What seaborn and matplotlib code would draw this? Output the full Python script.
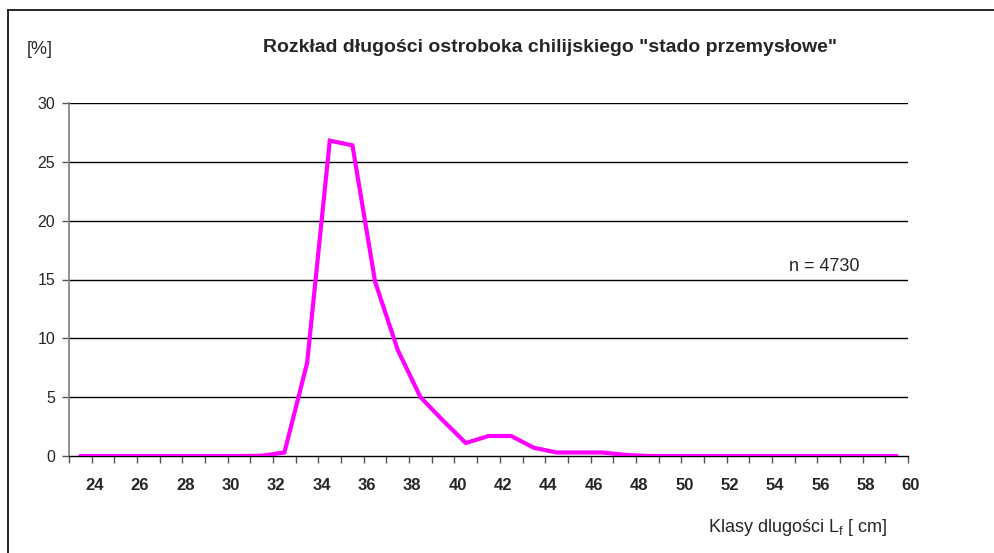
import matplotlib
matplotlib.use("Agg")
import matplotlib.pyplot as plt
import matplotlib.transforms as mtransforms
import seaborn as sns
import numpy as np
import pandas as pd
from matplotlib.lines import Line2D

sns.set_theme(style="white")
plt.rcParams['font.family'] = ['Liberation Sans', 'DejaVu Sans']

# length classes (class centres, cm)
klasy = [23.5, 24.5, 25.5, 26.5, 27.5, 28.5, 29.5, 30.5, 31.5, 32.5, 33.5, 34.5,
         35.5, 36.5, 37.5, 38.5, 39.5, 40.5, 41.5, 42.5, 43.5, 44.5, 45.5, 46.5,
         47.5, 48.5, 49.5, 50.5, 51.5, 52.5, 53.5, 54.5, 55.5, 56.5, 57.5, 58.5, 59.5]
procent = [0.0, 0.0, 0.0, 0.0, 0.0, 0.0, 0.0, 0.0, 0.02, 0.3, 7.9, 26.8,
           26.4, 14.8, 9.0, 5.0, 3.0, 1.1, 1.7, 1.7, 0.7, 0.3, 0.3, 0.3,
           0.1, 0.0, 0.0, 0.0, 0.0, 0.0, 0.0, 0.0, 0.0, 0.0, 0.0, 0.0, 0.0]
y_ticks = [0, 5, 10, 15, 20, 25, 30]
x_labels = list(range(24, 61, 2))

df = pd.DataFrame({"klasa": klasy, "procent": procent})

fig = plt.figure(figsize=(9.95, 5.53), dpi=100)
ax = fig.add_axes([69/995, 1-456/553, (908-69)/995, (456-103)/553])

sns.lineplot(data=df, x="klasa", y="procent", ax=ax, color="#FF00FF", linewidth=3,
             solid_joinstyle="miter", zorder=3)

ax.set_xlim(23, 60)
ax.set_ylim(0, 30)
ax.set_yticks(y_ticks)
ax.set_yticklabels([str(v) for v in y_ticks], fontsize=11.5)
ax.set_xticks(x_labels)
ax.set_xticklabels([str(v) for v in x_labels], fontsize=12, fontweight="bold")
ax.set_xticks(np.arange(23, 61, 1), minor=True)
ax.tick_params(axis="x", which="both", direction="out", length=5, width=1,
               color="#555555", bottom=True, pad=11)
ax.tick_params(axis="y", which="major", direction="out", length=5, width=1,
               color="#555555", left=True, pad=5)
ax.set_xlabel("")
ax.set_ylabel("")

shift = mtransforms.ScaledTranslation(3/100, 0, fig.dpi_scale_trans)
for lbl in ax.get_xticklabels():
    lbl.set_transform(lbl.get_transform() + shift)

for v in y_ticks[1:]:
    ax.axhline(v, color="black", linewidth=1, zorder=1)

for s in ["top", "right"]:
    ax.spines[s].set_visible(False)
ax.spines["left"].set_color("#808080")
ax.spines["left"].set_linewidth(1.2)
ax.spines["bottom"].set_color("black")
ax.spines["bottom"].set_linewidth(1)

fig.text(550/995, 1-48/553, 'Rozkład długości ostroboka chilijskiego "stado przemysłowe"',
         ha="center", va="center", fontsize=14, fontweight="bold")
fig.text(40/995, 1-50/553, "[%]", ha="center", va="center", fontsize=13)
fig.text(824/995, 1-267/553, "n = 4730", ha="center", va="center", fontsize=13)
fig.text(797/995, 1-527/553, r"Klasy dlugości L$_\mathregular{f}$ [ cm]",
         ha="center", va="center", fontsize=13)

# chart-area border (top and left)
fig.add_artist(Line2D([8/995, 1.0], [1-10/553, 1-10/553], transform=fig.transFigure,
                      color="black", linewidth=1.2))
fig.add_artist(Line2D([8/995, 8/995], [0.0, 1-10/553], transform=fig.transFigure,
                      color="black", linewidth=1.2))

fig.savefig("out.png", dpi=100, facecolor="white")
